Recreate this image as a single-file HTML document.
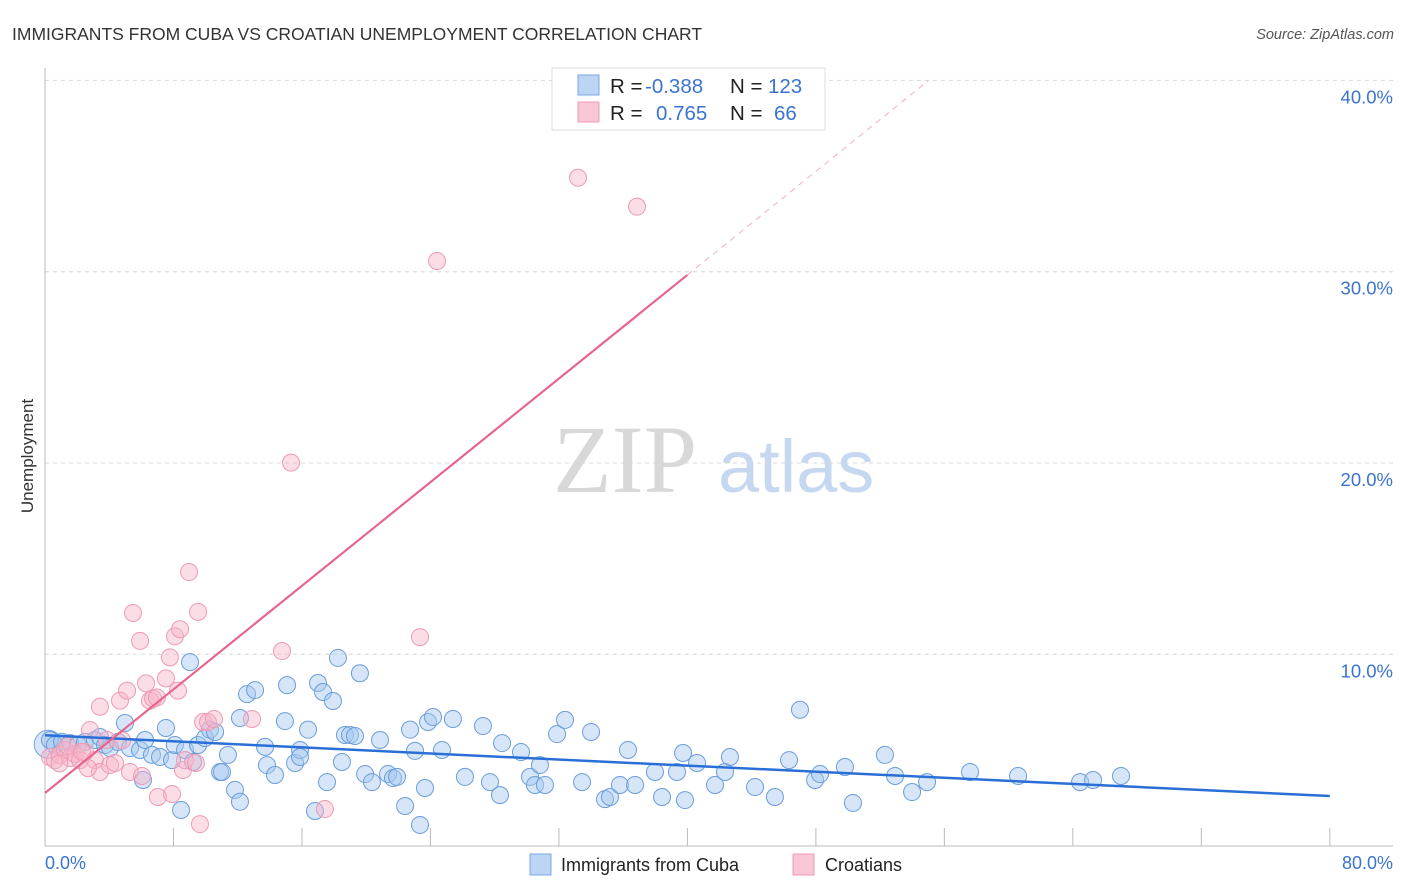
<!DOCTYPE html>
<html><head><meta charset="utf-8"><style>
body{margin:0;background:#fff;font-family:"Liberation Sans",sans-serif;}
svg{display:block}
</style></head><body>
<svg id="c" width="1406" height="892" xmlns="http://www.w3.org/2000/svg">
<text x="12" y="40" font-size="17.5" fill="#333">IMMIGRANTS FROM CUBA VS CROATIAN UNEMPLOYMENT CORRELATION CHART</text>
<text x="1394" y="39" font-size="14.5" fill="#555" font-style="italic" text-anchor="end">Source: ZipAtlas.com</text>
<text x="0" y="0" transform="translate(33,456) rotate(-90)" font-size="17" fill="#333" text-anchor="middle">Unemployment</text>
<g>
<text x="553" y="492" font-family="Liberation Serif,serif" font-size="96" fill="#d8d8d8">ZIP</text>
<text x="718" y="492" font-size="74" fill="#c5d8f0">atlas</text>
</g>
<g id="grid"></g>
<g id="axes"></g>
<g id="pts"></g>
<g id="lines"></g>
<g>
<rect x="552" y="68" width="273" height="62" fill="#fff" stroke="#ddd"/>
<rect x="578" y="75" width="21" height="20" fill="#bcd5f5" stroke="#7aa8e4"/>
<rect x="578" y="102" width="21" height="20" fill="#f8c6d4" stroke="#ee9bb3"/>
<text y="93" font-size="20.5"><tspan x="610" fill="#222">R = </tspan><tspan x="645" fill="#3b73d0">-0.388</tspan><tspan x="730" fill="#222">N = </tspan><tspan x="768" fill="#3b73d0">123</tspan></text>
<text y="120" font-size="20.5"><tspan x="610" fill="#222">R = </tspan><tspan x="656" fill="#3b73d0">0.765</tspan><tspan x="730" fill="#222">N = </tspan><tspan x="774" fill="#3b73d0">66</tspan></text>
</g>
<g>
<rect x="530" y="854" width="21" height="21" fill="#bcd5f5" stroke="#7aa8e4"/>
<text x="561" y="871" font-size="18" fill="#222">Immigrants from Cuba</text>
<rect x="793" y="854" width="21" height="21" fill="#f8c6d4" stroke="#ee9bb3"/>
<text x="825" y="871" font-size="18" fill="#222">Croatians</text>
</g>
</svg>
<script>
const cubaX=[0.31,0.62,1.06,1.56,2.05,2.49,3.11,3.42,3.74,4.05,4.55,4.98,5.29,5.92,6.23,6.10,6.66,7.16,7.53,7.91,8.09,8.72,9.03,9.22,9.53,9.96,10.27,10.59,8.47,10.90,11.02,11.39,11.83,12.14,12.14,12.58,13.08,13.70,13.82,14.32,15.07,14.94,15.57,15.88,15.88,16.38,16.81,17.00,17.31,17.56,17.93,18.24,18.49,18.68,18.99,19.30,19.61,19.93,20.36,20.86,21.36,21.67,21.92,22.42,22.73,23.04,23.35,23.66,23.85,24.16,24.72,25.40,26.15,27.27,27.71,28.33,28.46,29.64,30.20,30.51,30.82,31.13,31.88,32.38,33.44,34.00,34.87,35.18,35.80,36.30,36.74,37.98,38.42,39.35,39.73,39.85,40.60,41.72,42.34,42.65,44.21,45.45,46.33,47.01,47.95,48.26,49.81,50.31,52.30,52.93,53.99,54.92,57.60,60.59,64.45,65.26,67.00];
const cubaY=[5.52,5.26,5.42,5.36,5.26,5.42,5.52,5.68,5.26,5.10,5.42,6.41,5.10,5.00,5.52,3.43,4.74,4.63,6.15,4.47,5.26,5.00,9.59,4.37,5.26,5.62,6.06,5.94,1.86,3.85,3.85,4.74,2.91,6.67,2.29,7.92,8.13,5.16,4.21,3.69,8.39,6.51,4.32,5.00,4.63,6.06,1.81,8.50,8.03,3.32,7.56,9.81,4.37,5.78,5.78,5.73,9.01,3.74,3.32,5.52,3.74,3.53,3.59,2.07,6.06,4.95,1.08,3.01,6.46,6.72,5.00,6.62,3.59,6.25,3.32,2.64,5.36,4.89,3.59,3.17,4.21,3.17,5.83,6.57,3.32,5.94,2.43,2.54,3.17,5.00,3.17,3.85,2.54,3.85,4.84,2.38,4.32,3.17,3.85,4.63,3.06,2.54,4.47,7.10,3.43,3.74,4.11,2.23,4.74,3.64,2.80,3.32,3.85,3.64,3.32,3.43,3.64];
const croX=[0.31,0.62,0.93,1.25,1.56,1.87,2.18,2.49,2.80,3.11,3.42,2.67,3.42,3.86,4.05,4.36,4.67,5.11,5.29,5.48,5.92,6.04,6.29,6.54,6.73,6.97,7.03,7.53,7.78,7.91,8.09,8.28,8.41,8.59,8.72,8.97,9.40,9.53,9.65,9.84,10.15,10.52,12.89,14.76,15.32,17.43,23.35,24.41,33.19,36.86,1.4,2.3,4.8,0.9];
const croY=[4.63,4.47,4.74,5.00,4.58,4.79,4.47,4.89,6.04,4.47,3.85,4.05,7.26,5.52,4.21,4.32,7.58,8.10,3.85,12.16,10.70,3.64,8.48,7.58,7.69,7.74,2.54,8.74,9.84,2.70,10.94,8.10,11.31,3.95,4.47,14.30,4.32,12.22,1.12,6.46,6.46,6.62,6.62,10.17,20.02,1.91,10.90,30.56,34.91,33.40,5.2,4.9,5.5,4.3];
const xTicks=[0,8,16,24,32,40,48,56,64,72,80];
const yTicks=[10,20,30,40];
const yTickLabels=["10.0%","20.0%","30.0%","40.0%"];
const xEndLabels=["0.0%","80.0%"];
const cubaFit=[5.77,2.59];
const croFit=[2.75,0.677];
const NS="http://www.w3.org/2000/svg";
const X=v=>45+v*16.06, Y=v=>845.6-v*19.13;
function mk(tag,attrs,parent){const e=document.createElementNS(NS,tag);for(const k in attrs)e.setAttribute(k,attrs[k]);parent.appendChild(e);return e;}
const grid=document.getElementById('grid'),axes=document.getElementById('axes'),pts=document.getElementById('pts'),lines=document.getElementById('lines');
yTicks.forEach((t,i)=>{
 const g=mk('line',{x1:45,x2:1393,y1:Y(t),y2:Y(t),stroke:'#d8d8d8','stroke-dasharray':'4,4'},grid);
 
 
 const l=mk('text',{x:1393,y:Y(t)+23,'text-anchor':'end','font-size':18.5,fill:'#3b73d0'},axes);
 l.textContent=yTickLabels[i];
 
 
});
const ya=mk('line',{x1:45,x2:45,y1:68,y2:846,stroke:'#bbb'},axes);


const xa=mk('line',{x1:45,x2:1393,y1:846,y2:846,stroke:'#bbb'},axes);


xTicks.forEach(t=>{
 const tk=mk('line',{x1:X(t),x2:X(t),y1:828,y2:846,stroke:'#bbb'},axes);
 
 
});
const xl0=mk('text',{x:45,y:869,'font-size':18,fill:'#3b73d0'},axes);
xl0.textContent=xEndLabels[0];


const xl1=mk('text',{x:1393,y:869,'font-size':18,fill:'#3b73d0','text-anchor':'end'},axes);
xl1.textContent=xEndLabels[1];


const big=mk('circle',{cx:X(0.2),cy:Y(5.3),r:14,fill:'rgba(164,199,240,0.45)',stroke:'#7aa3dc','stroke-width':1},pts);


cubaX.forEach((x,i)=>{
 const c=mk('circle',{cx:X(x),cy:Y(cubaY[i]),r:8.5,fill:'rgba(164,199,240,0.45)',stroke:'#6a9ddc','stroke-width':1},pts);
 
 
});
croX.forEach((x,i)=>{
 const c=mk('circle',{cx:X(x),cy:Y(croY[i]),r:8.5,fill:'rgba(246,180,200,0.45)',stroke:'#ef9ab3','stroke-width':1},pts);
 
 
});
const bl=mk('line',{x1:X(0),y1:Y(cubaFit[0]),x2:X(80),y2:Y(cubaFit[1]),stroke:'#2a6fd6','stroke-width':2.5},lines);


const xEnd=40, xDash=(40-croFit[0])/croFit[1];
const pl=mk('line',{x1:X(0),y1:Y(croFit[0]),x2:X(xEnd),y2:Y(croFit[0]+croFit[1]*xEnd),stroke:'#e8668e','stroke-width':2.2},lines);


const pd=mk('line',{x1:X(xEnd),y1:Y(croFit[0]+croFit[1]*xEnd),x2:X(xDash),y2:Y(40),stroke:'#f0b0c2','stroke-width':1,'stroke-dasharray':'6,5'},lines);


</script>
</body></html>
